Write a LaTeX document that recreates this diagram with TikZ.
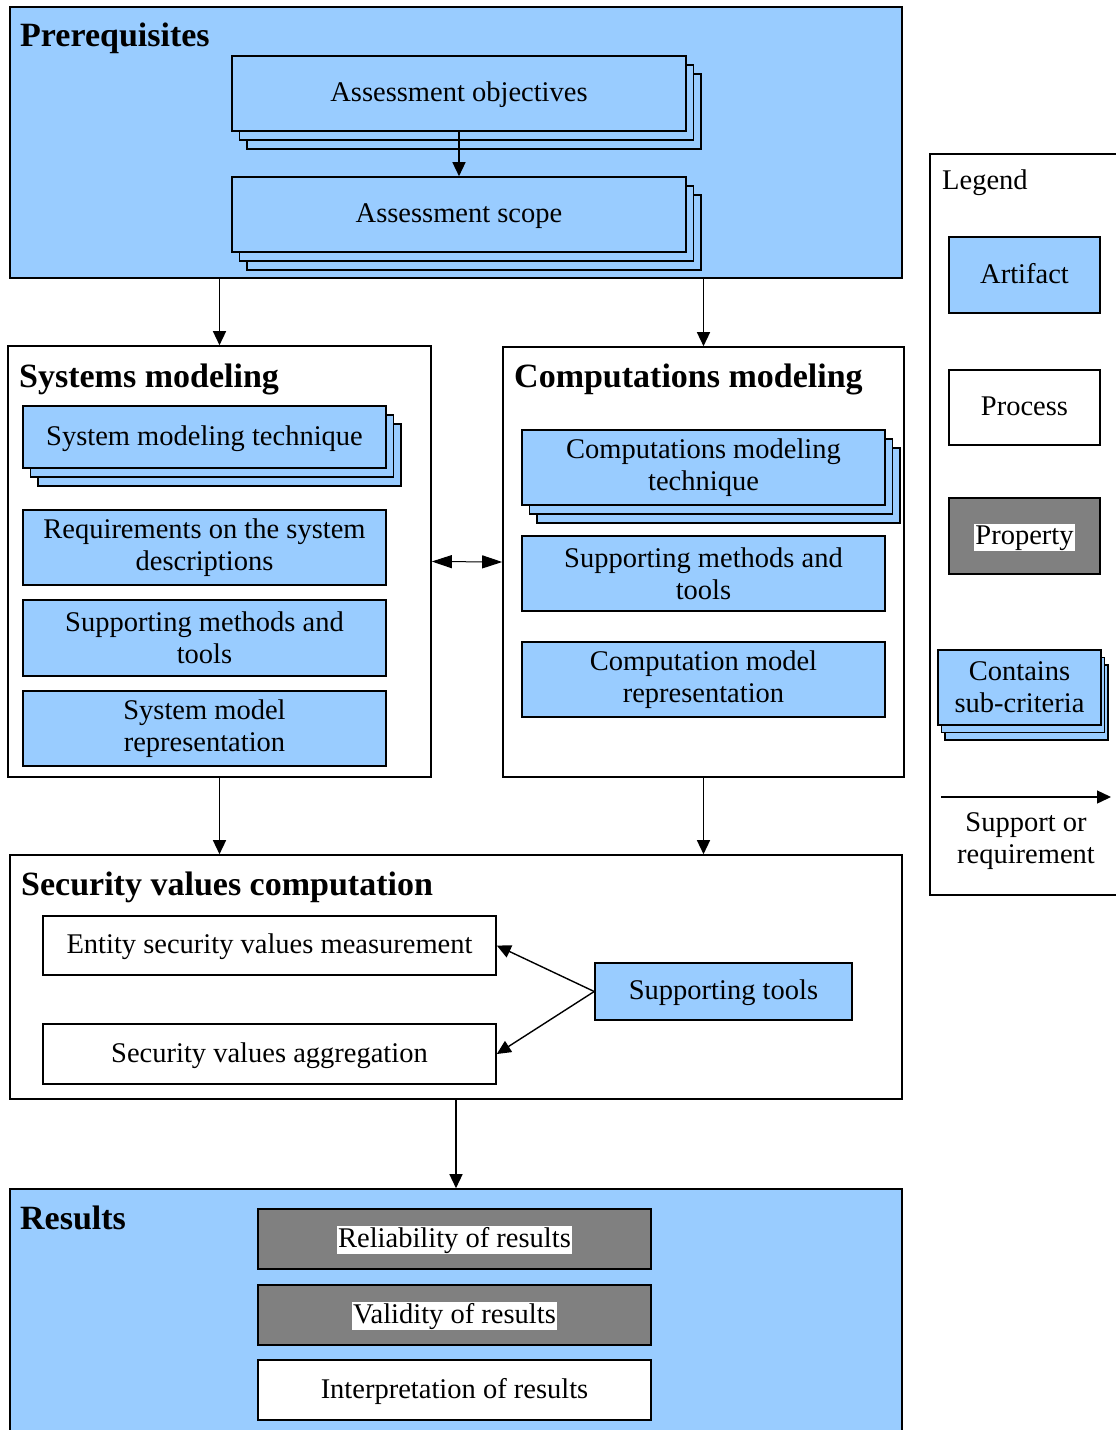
\documentclass[tikz,border=0pt]{standalone}
\usepackage{fontspec}
\setmainfont{Liberation Serif}
\usetikzlibrary{arrows.meta,shadows}
\definecolor{artblue}{HTML}{99CCFF}
\definecolor{propgray}{HTML}{808080}
\tikzset{
  box/.style={draw=black, line width=1.6pt, rectangle, inner sep=0pt, align=center,
    font=\fontsize{28.5}{32}\selectfont},
  artifact/.style={box, fill=artblue},
  process/.style={box, fill=white},
  property/.style={box, fill=propgray},
  stack/.style={double copy shadow={shadow xshift=7.5pt, shadow yshift=-9pt}},
  group/.style={draw=black, line width=1.6pt, rectangle, inner sep=0pt},
  title/.style={anchor=base west, inner sep=0pt, font=\fontsize{34}{38}\selectfont\bfseries},
  plain/.style={anchor=base west, inner sep=0pt, font=\fontsize{28.5}{32}\selectfont},
  arr/.style={-{Triangle[length=14pt,width=13pt]}, line width=1.4pt},
  biarr/.style={{Triangle[length=20pt,width=13pt]}-{Triangle[length=20pt,width=13pt]}, line width=1pt},
}
% one-line labels: keep the baseline a little below the box centre
\newcommand{\lstrut}{\rule[-8pt]{0pt}{32pt}}
\newcommand{\hlt}[1]{\lstrut{\setlength{\fboxsep}{1pt}\colorbox{white}{#1}}}
\begin{document}
\begin{tikzpicture}[x=1pt, y=-1pt]
\useasboundingbox (0,0) rectangle (1116,1430);
\clip (0,0) rectangle (1116,1430);

% ---- Prerequisites ----
\node[group, fill=artblue, minimum width=892pt, minimum height=271pt] (pre) at (456,142.5) {};
\node[title] (pret) at (20,46) {Prerequisites};
\node[artifact, stack, minimum width=454pt, minimum height=75pt] (obj) at (459,93.5) {\lstrut Assessment objectives};
\node[artifact, stack, minimum width=454pt, minimum height=75pt] (scope) at (459,214.5) {\lstrut Assessment scope};
\draw[arr] (obj.south) -- (scope.north);

% ---- Systems modeling ----
\node[group, fill=white, minimum width=423pt, minimum height=431pt] (sysm) at (219.5,561.5) {};
\node[title] (sysmt) at (19,387) {Systems modeling};
\node[artifact, stack, minimum width=363pt, minimum height=62pt] (smt) at (204.5,437) {\lstrut System modeling technique};
\node[artifact, minimum width=363pt, minimum height=75pt] (req) at (204.5,547.5) {Requirements on the system\\descriptions};
\node[artifact, minimum width=363pt, minimum height=76pt] (smtools) at (204.5,638) {Supporting methods and\\tools};
\node[artifact, minimum width=363pt, minimum height=75pt] (smrep) at (204.5,728.5) {System model\\representation};

% ---- Computations modeling ----
\node[group, fill=white, minimum width=401pt, minimum height=430pt] (compm) at (703.5,562) {};
\node[title] (compmt) at (514,387) {Computations modeling};
\node[artifact, stack, minimum width=363pt, minimum height=75pt] (cmt) at (703.5,467.5) {Computations modeling\\technique};
\node[artifact, minimum width=363pt, minimum height=75pt] (cmtools) at (703.5,573.5) {Supporting methods and\\tools};
\node[artifact, minimum width=363pt, minimum height=75pt] (cmrep) at (703.5,679.5) {Computation model\\representation};

\draw[biarr] (sysm.east) -- (compm.west);
\draw[arr] (pre.south -| sysm) -- (sysm.north);
\draw[arr] (pre.south -| compm) -- (compm.north);

% ---- Security values computation ----
\node[group, fill=white, minimum width=892pt, minimum height=244pt] (svc) at (456,977) {};
\node[title] (svct) at (21,895) {Security values computation};
\node[process, minimum width=453pt, minimum height=59pt] (ent) at (269.5,945.5) {\lstrut Entity security values measurement};
\node[process, minimum width=453pt, minimum height=60pt] (agg) at (269.5,1054) {\lstrut Security values aggregation};
\node[artifact, minimum width=257pt, minimum height=57pt] (tools) at (723.5,991.5) {\lstrut Supporting tools};
\draw[arr] (tools.west) -- (ent.east);
\draw[arr] (tools.west) -- (agg.east);

\draw[arr] (sysm.south) -- (svc.north -| sysm);
\draw[arr] (compm.south) -- (svc.north -| compm);

% ---- Results ----
\node[group, fill=artblue, minimum width=892pt, minimum height=260pt] (res) at (456,1319) {};
\node[title] (rest) at (20,1229) {Results};
\node[property, minimum width=393pt, minimum height=60pt] (rel) at (454.5,1239) {\hlt{Reliability of results}};
\node[property, minimum width=393pt, minimum height=60pt] (val) at (454.5,1315) {\hlt{Validity of results}};
\node[process, minimum width=393pt, minimum height=60pt] (interp) at (454.5,1390) {\lstrut Interpretation of results};
\draw[arr] (svc.south) -- (res.north);

% ---- Legend ----
\node[group, fill=white, minimum width=200pt, minimum height=741pt] (leg) at (1030,524.5) {};
\node[plain] (legt) at (942,189) {Legend};
\node[artifact, minimum width=151pt, minimum height=76pt] (lart) at (1024.5,275) {\lstrut Artifact};
\node[process, minimum width=151pt, minimum height=75pt] (lproc) at (1024.5,407.5) {\lstrut Process};
\node[property, minimum width=151pt, minimum height=76pt] (lprop) at (1024.5,536) {\hlt{Property}};
\node[artifact, minimum width=163pt, minimum height=75pt,
  double copy shadow={shadow xshift=3.5pt, shadow yshift=-7.5pt}] (lsub) at (1019.5,687.5) {Contains\\sub-criteria};
\coordinate (la) at (941,797);
\coordinate (lb) at (1111,797);
\draw[arr] (la) -- (lb);
\node[box, draw=none, anchor=north] (lsup) at (1026,812) {Support or\\requirement};
\end{tikzpicture}
\end{document}
